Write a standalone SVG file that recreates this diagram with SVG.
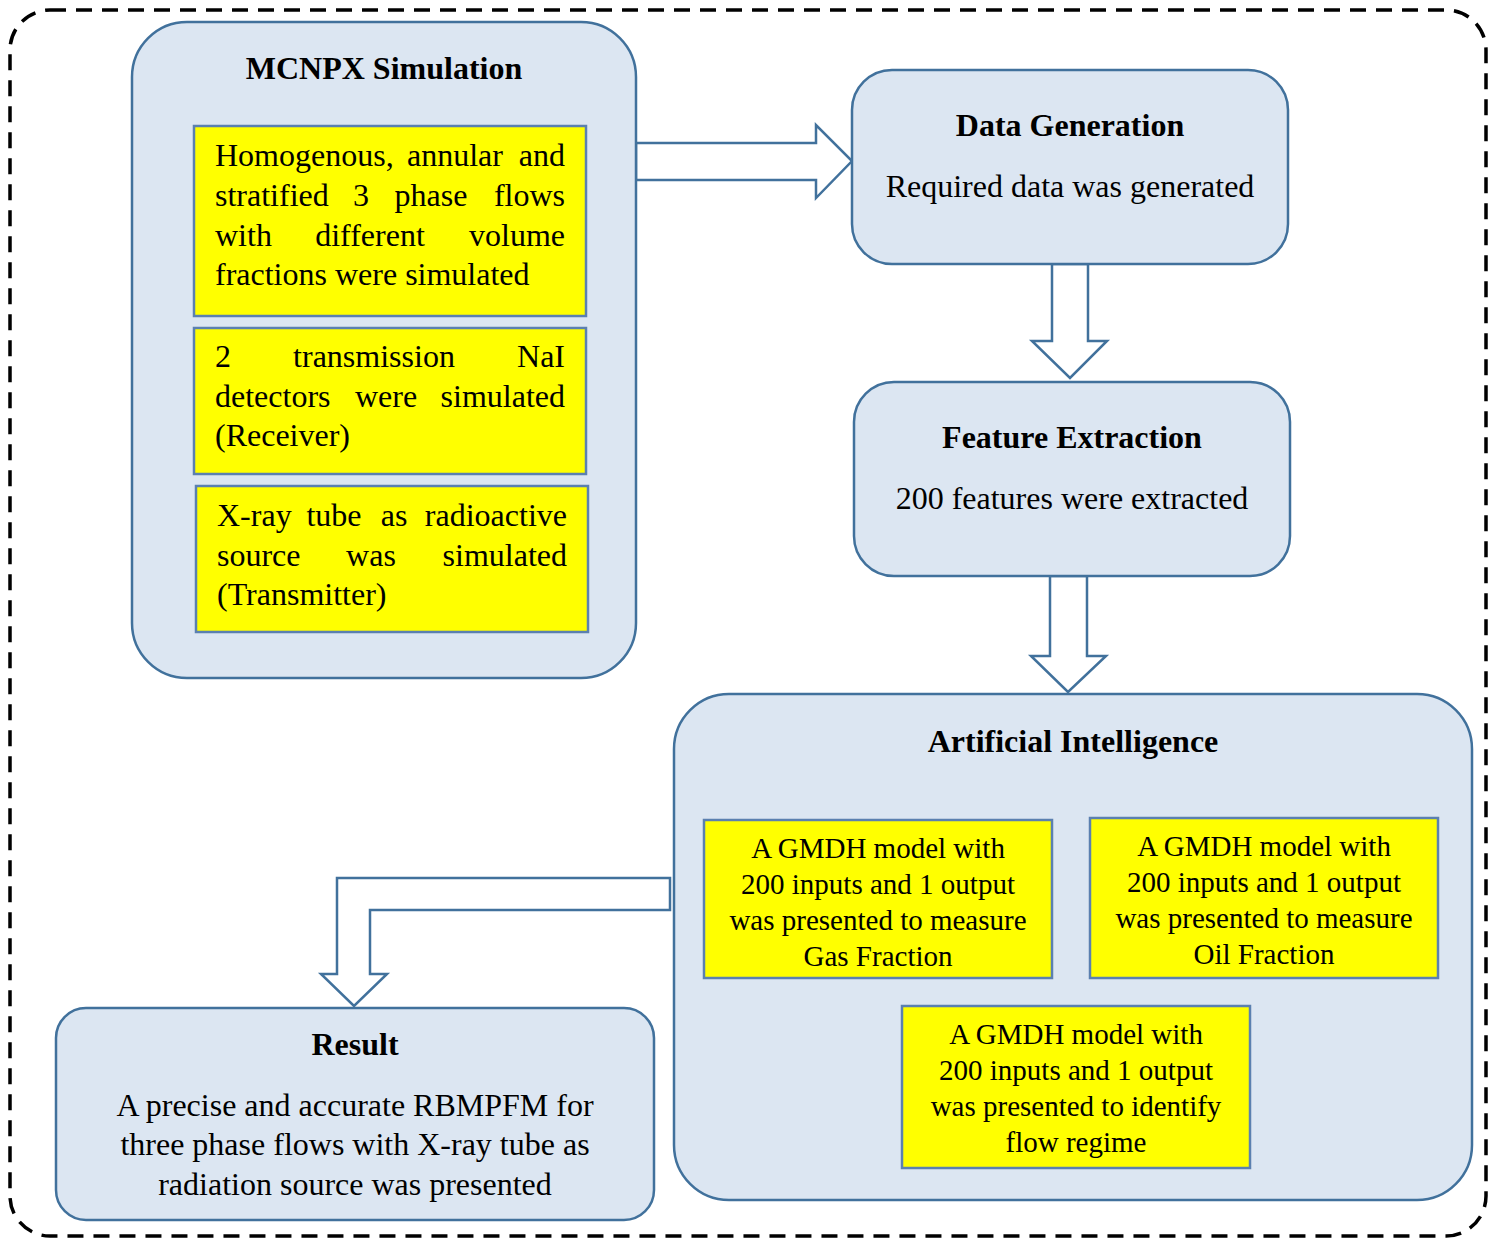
<svg xmlns="http://www.w3.org/2000/svg" width="1493" height="1239" viewBox="0 0 1493 1239">
<style>
.frame{fill:none;stroke:#000;stroke-width:3.5;stroke-dasharray:16 10}
.box{fill:#dce6f2;stroke:#41719c;stroke-width:2.5}
.ybox{fill:#ffff00;stroke:#5b80b0;stroke-width:2.5}
.arrow{fill:#fff;stroke:#41719c;stroke-width:2.5;stroke-linejoin:miter}
text{font-family:"Liberation Serif","Times New Roman",serif;fill:#000}
.t{font-size:32px;font-weight:bold;text-anchor:middle}
.b{font-size:32px}
.c{font-size:32px;text-anchor:middle}
.e{text-anchor:end}
.m{text-anchor:middle}
.g{font-size:29px;text-anchor:middle}
</style>
<rect class="frame" x="10" y="10" width="1476" height="1226" rx="40" ry="40"/>

<g id="connectors">
<path class="arrow" d="M636,143 L816,143 L816,125 L852,161 L816,198 L816,180 L636,180 Z"/>
<path class="arrow" d="M1052,264 L1088,264 L1088,341 L1107,341 L1070,378 L1032,341 L1052,341 Z"/>
<path class="arrow" d="M1050,576 L1087,576 L1087,656 L1106,656 L1068,692 L1031,656 L1050,656 Z"/>
<path class="arrow" d="M670,878 L337,878 L337,974 L321,974 L354,1006 L387,974 L370,974 L370,910 L670,910 Z"/>
</g>

<g id="mcnpx">
<rect class="box" x="132" y="22" width="504" height="656" rx="55" ry="55"/>
<text class="t" x="384" y="79">MCNPX Simulation</text>
<rect class="ybox" x="194" y="126" width="392" height="190"/>
<text class="b" y="166"><tspan x="215">Homogenous,</tspan><tspan x="455" class="m">annular</tspan><tspan x="565" class="e">and</tspan></text>
<text class="b" y="206"><tspan x="215">stratified</tspan><tspan x="361" class="m">3</tspan><tspan x="431" class="m">phase</tspan><tspan x="565" class="e">flows</tspan></text>
<text class="b" y="246"><tspan x="215">with</tspan><tspan x="370" class="m">different</tspan><tspan x="565" class="e">volume</tspan></text>
<text class="b" x="215" y="285">fractions were simulated</text>
<rect class="ybox" x="194" y="328" width="392" height="146"/>
<text class="b" y="367"><tspan x="215">2</tspan><tspan x="374" class="m">transmission</tspan><tspan x="565" class="e">NaI</tspan></text>
<text class="b" y="407"><tspan x="215">detectors</tspan><tspan x="386" class="m">were</tspan><tspan x="565" class="e">simulated</tspan></text>
<text class="b" x="215" y="446">(Receiver)</text>
<rect class="ybox" x="196" y="486" width="392" height="146"/>
<text class="b" y="526"><tspan x="217">X-ray</tspan><tspan x="334" class="m">tube</tspan><tspan x="394" class="m">as</tspan><tspan x="567" class="e">radioactive</tspan></text>
<text class="b" y="566"><tspan x="217">source</tspan><tspan x="371" class="m">was</tspan><tspan x="567" class="e">simulated</tspan></text>
<text class="b" x="217" y="605">(Transmitter)</text>
</g>

<g id="data-generation">
<rect class="box" x="852" y="70" width="436" height="194" rx="40" ry="40"/>
<text class="t" x="1070" y="136">Data Generation</text>
<text class="c" x="1070" y="197">Required data was generated</text>
</g>

<g id="feature-extraction">
<rect class="box" x="854" y="382" width="436" height="194" rx="40" ry="40"/>
<text class="t" x="1072" y="448">Feature Extraction</text>
<text class="c" x="1072" y="509">200 features were extracted</text>
</g>

<g id="artificial-intelligence">
<rect class="box" x="674" y="694" width="798" height="506" rx="55" ry="55"/>
<text class="t" x="1073" y="752">Artificial Intelligence</text>
</g>

<g id="gmdh-gas">
<rect class="ybox" x="704" y="820" width="348" height="158"/>
<text class="g" x="878" y="858">A GMDH model with</text>
<text class="g" x="878" y="894">200 inputs and 1 output</text>
<text class="g" x="878" y="930">was presented to measure</text>
<text class="g" x="878" y="966">Gas Fraction</text>
</g>

<g id="gmdh-oil">
<rect class="ybox" x="1090" y="818" width="348" height="160"/>
<text class="g" x="1264" y="856">A GMDH model with</text>
<text class="g" x="1264" y="892">200 inputs and 1 output</text>
<text class="g" x="1264" y="928">was presented to measure</text>
<text class="g" x="1264" y="964">Oil Fraction</text>
</g>

<g id="gmdh-regime">
<rect class="ybox" x="902" y="1006" width="348" height="162"/>
<text class="g" x="1076" y="1044">A GMDH model with</text>
<text class="g" x="1076" y="1080">200 inputs and 1 output</text>
<text class="g" x="1076" y="1116">was presented to identify</text>
<text class="g" x="1076" y="1152">flow regime</text>
</g>

<g id="result">
<rect class="box" x="56" y="1008" width="598" height="212" rx="30" ry="30"/>
<text class="t" x="355" y="1055">Result</text>
<text class="c" x="355" y="1116">A precise and accurate RBMPFM for</text>
<text class="c" x="355" y="1155">three phase flows with X-ray tube as</text>
<text class="c" x="355" y="1195">radiation source was presented</text>
</g>
</svg>
